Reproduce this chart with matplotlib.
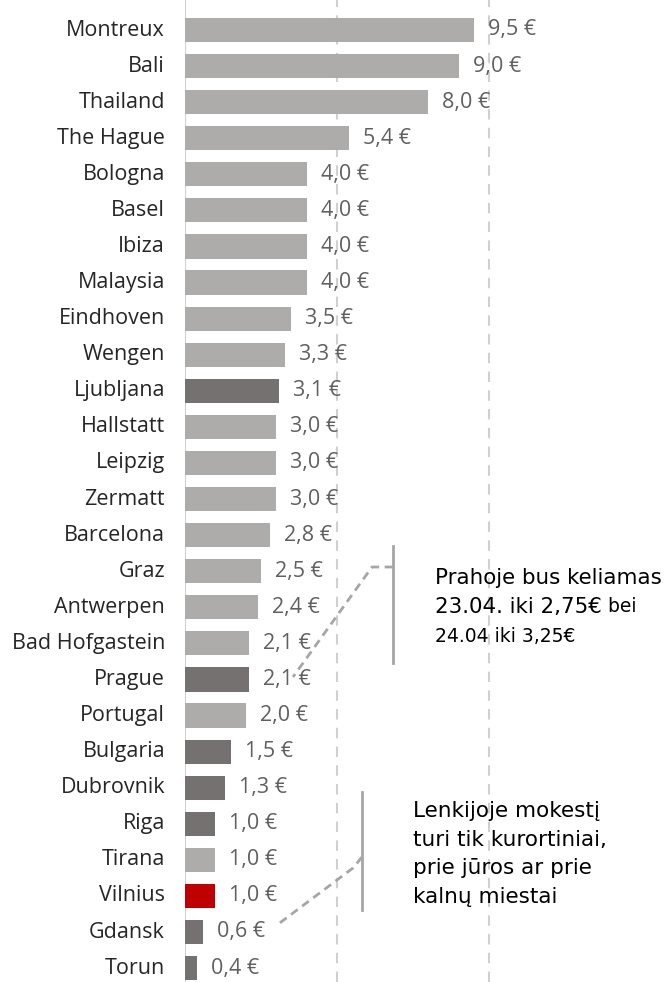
import matplotlib
matplotlib.use('Agg')
import matplotlib.pyplot as plt

# data
cities = ['Montreux', 'Bali', 'Thailand', 'The Hague', 'Bologna', 'Basel', 'Ibiza',
          'Malaysia', 'Eindhoven', 'Wengen', 'Ljubljana', 'Hallstatt', 'Leipzig',
          'Zermatt', 'Barcelona', 'Graz', 'Antwerpen', 'Bad Hofgastein', 'Prague',
          'Portugal', 'Bulgaria', 'Dubrovnik', 'Riga', 'Tirana', 'Vilnius', 'Gdansk', 'Torun']
values = [9.5, 9.0, 8.0, 5.4, 4.0, 4.0, 4.0, 4.0, 3.5, 3.3, 3.1, 3.0, 3.0, 3.0, 2.8,
          2.5, 2.4, 2.1, 2.1, 2.0, 1.5, 1.3, 1.0, 1.0, 1.0, 0.6, 0.4]
groups = ['light'] * 10 + ['dark'] + ['light'] * 7 + ['dark', 'light', 'dark', 'dark',
          'dark', 'light', 'red', 'dark', 'dark']

note1_lines = ['Prahoje bus keliamas', '23.04. iki 2,75€', ' bei', '24.04 iki 3,25€']
note2 = 'Lenkijoje mokestį\nturi tik kurortiniai,\nprie jūros ar prie\nkalnų miestai'

colors = {'light': '#AEABAB', 'dark': '#767171', 'red': '#C00000'}

# ----------------------------------------------------------------
W, H = 664, 982
fig = plt.figure(figsize=(W / 100, H / 100), dpi=100)
x0 = 185
px_per_unit = 30.4
ax = fig.add_axes([x0 / W, 0, 1 - x0 / W, 1])
ax.set_xlim(0, (W - x0) / px_per_unit)
row = 36.08
ax.set_ylim((H - 30) / row, -30 / row)
ax.axis('off')

idx = list(range(len(cities)))
ax.barh(idx, values, height=0.67, color=[colors[g] for g in groups], zorder=2)

# grid lines
ax.axvline(0, color='#D0D0D0', lw=1.5, zorder=1)
for gx in (5, 10):
    ax.axvline(gx, color='#D0D0D0', lw=1.5, ls=(0, (5, 4)), zorder=1)

for i, (c, v) in enumerate(zip(cities, values)):
    ax.text(-20 / px_per_unit, i, c, ha='right', va='center', fontsize=15.5,
            family='Open Sans', color='#262626')
    ax.text(v + 14 / px_per_unit, i, f'{v:.1f}'.replace('.', ',') + ' €',
            ha='left', va='center', fontsize=15.5, family='Open Sans',
            color='#606060')

def px(x, y):
    return (x - x0) / px_per_unit, (y - 30) / row

gray = '#A6A6A6'
# note 1 bracket + connector
a, b = px(393, 546), px(393, 663)
ax.plot([a[0], b[0]], [a[1], b[1]], color=gray, lw=2, clip_on=False)
p = [px(393, 567), px(372, 567), px(293, 677)]
ax.plot([q[0] for q in p], [q[1] for q in p], color=gray, lw=2, ls=(0, (3, 2)), clip_on=False)

# note 2 bracket + connector
a, b = px(362, 792), px(362, 910)
ax.plot([a[0], b[0]], [a[1], b[1]], color=gray, lw=2, clip_on=False)
p = [px(362, 857), px(353, 868), px(277, 925)]
ax.plot([q[0] for q in p], [q[1] for q in p], color=gray, lw=2, ls=(0, (3, 2)), clip_on=False)

# note texts
big, small = 15.4, 13.5
tx, ty = px(435, 578)
ax.text(tx, ty, note1_lines[0], fontsize=big, va='center', ha='left', color='black')
tx2, ty2 = px(435, 607)
t2 = ax.text(tx2, ty2, note1_lines[1], fontsize=big, va='center', ha='left', color='black')
fig.canvas.draw()
bb = t2.get_window_extent()
xe = ax.transData.inverted().transform((bb.x1, 0))[0]
ax.text(xe, ty2, note1_lines[2], fontsize=small, va='center', ha='left', color='black')
tx3, ty3 = px(435, 637)
ax.text(tx3, ty3, note1_lines[3], fontsize=small, va='center', ha='left', color='black')

tx, ty = px(413, 854)
ax.text(tx, ty, note2, fontsize=15.5, va='center', ha='left', linespacing=1.55, color='black')

fig.savefig('out.png', dpi=100)
